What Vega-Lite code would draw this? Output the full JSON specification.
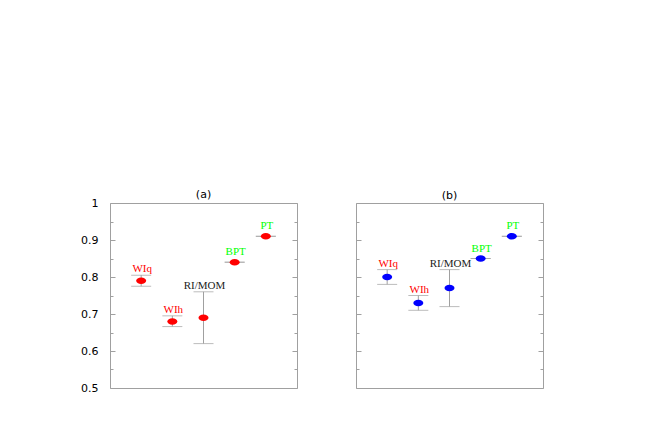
{
  "$schema": "https://vega.github.io/schema/vega-lite/v6.json",
  "padding": {"left": 80, "top": 188, "right": 0, "bottom": 0},
  "spacing": 57,
  "config": {
    "view": {"stroke": "#a0a0a0", "strokeWidth": 1},
    "title": {"font": "DejaVu Sans", "fontSize": 11, "fontWeight": "normal", "color": "#000"}
  },
  "datasets": {
    "a": [
      {"name": "WIq", "x": 1, "value": 0.79, "lo": 0.775, "hi": 0.805, "family": "WI"},
      {"name": "WIh", "x": 2, "value": 0.68, "lo": 0.666, "hi": 0.695, "family": "WI"},
      {"name": "RI/MOM", "x": 3, "value": 0.69, "lo": 0.62, "hi": 0.76, "family": "RI"},
      {"name": "BPT", "x": 4, "value": 0.84, "lo": 0.84, "hi": 0.84, "family": "PT"},
      {"name": "PT", "x": 5, "value": 0.91, "lo": 0.91, "hi": 0.91, "family": "PT"}
    ],
    "b": [
      {"name": "WIq", "x": 1, "value": 0.80, "lo": 0.78, "hi": 0.82, "family": "WI"},
      {"name": "WIh", "x": 2, "value": 0.73, "lo": 0.71, "hi": 0.75, "family": "WI"},
      {"name": "RI/MOM", "x": 3, "value": 0.77, "lo": 0.72, "hi": 0.82, "family": "RI"},
      {"name": "BPT", "x": 4, "value": 0.85, "lo": 0.85, "hi": 0.85, "family": "PT"},
      {"name": "PT", "x": 5, "value": 0.91, "lo": 0.91, "hi": 0.91, "family": "PT"}
    ]
  },
  "hconcat": [
    {
      "title": {"text": "(a)", "offset": -3},
      "width": 187,
      "height": 185,
      "data": {"name": "a"},
      "layer": [
        {
          "mark": {"type": "rule", "color": "#a0a0a0", "strokeWidth": 1},
          "encoding": {
            "x": {"field": "x", "type": "quantitative", "scale": {"domain": [0, 6]}, "axis": null},
            "y": {"field": "lo", "type": "quantitative", "scale": {"domain": [0.5, 1]},
              "axis": {"orient": "left", "title": null, "domain": false, "grid": false,
                "values": [0.5, 0.55, 0.6, 0.65, 0.7, 0.75, 0.8, 0.85, 0.9, 0.95, 1],
                "tickSize": {"condition": {"test": "abs(datum.value*10 - round(datum.value*10)) < 0.01", "value": -5}, "value": -3},
                "tickColor": "#a0a0a0",
                "labelExpr": "abs(datum.value*10 - round(datum.value*10)) < 0.01 ? (datum.value == 1 ? '1' : format(datum.value, '.1f')) : ''",
                "labelFont": "DejaVu Sans", "labelFontSize": 11, "labelColor": "#000", "labelPadding": 17}},
            "y2": {"field": "hi"}
          }
        },
        {
          "mark": {"type": "tick", "color": "#a0a0a0", "size": 20, "thickness": 1, "orient": "horizontal"},
          "encoding": {
            "x": {"field": "x", "type": "quantitative"},
            "y": {"field": "lo", "type": "quantitative", "axis": null}
          }
        },
        {
          "mark": {"type": "tick", "color": "#a0a0a0", "size": 20, "thickness": 1, "orient": "horizontal"},
          "encoding": {
            "x": {"field": "x", "type": "quantitative"},
            "y": {"field": "hi", "type": "quantitative", "axis": null}
          }
        },
        {
          "mark": {"type": "point", "filled": true, "opacity": 1, "color": "#ff0000", "size": 100,
            "shape": "M-1,0A1,0.65,0,1,1,1,0A1,0.65,0,1,1,-1,0Z"},
          "encoding": {
            "x": {"field": "x", "type": "quantitative"},
            "y": {"field": "value", "type": "quantitative",
              "axis": {"orient": "right", "title": null, "domain": false, "grid": false, "labels": false,
                "values": [0.5, 0.55, 0.6, 0.65, 0.7, 0.75, 0.8, 0.85, 0.9, 0.95, 1],
                "tickSize": {"condition": {"test": "abs(datum.value*10 - round(datum.value*10)) < 0.01", "value": -5}, "value": -3},
                "tickColor": "#a0a0a0"}}
          }
        },
        {
          "transform": [{"filter": "datum.hi > datum.value"}],
          "mark": {"type": "text", "font": "Liberation Serif", "fontSize": 11, "baseline": "bottom", "dy": -1, "dx": 1},
          "encoding": {
            "x": {"field": "x", "type": "quantitative"},
            "y": {"field": "hi", "type": "quantitative", "axis": null},
            "text": {"field": "name"},
            "color": {"field": "family", "type": "nominal", "scale": {"domain": ["WI", "RI", "PT"], "range": ["#ff0000", "#222222", "#00ff00"]}, "legend": null}
          }
        },
        {
          "transform": [{"filter": "datum.hi <= datum.value"}],
          "mark": {"type": "text", "font": "Liberation Serif", "fontSize": 11, "baseline": "bottom", "dy": -5, "dx": 1},
          "encoding": {
            "x": {"field": "x", "type": "quantitative"},
            "y": {"field": "value", "type": "quantitative", "axis": null},
            "text": {"field": "name"},
            "color": {"field": "family", "type": "nominal", "scale": {"domain": ["WI", "RI", "PT"], "range": ["#ff0000", "#222222", "#00ff00"]}, "legend": null}
          }
        }
      ],
      "resolve": {"axis": {"y": "independent"}}
    },
    {
      "title": {"text": "(b)", "offset": 2},
      "width": 187,
      "height": 185,
      "data": {"name": "b"},
      "layer": [
        {
          "mark": {"type": "rule", "color": "#a0a0a0", "strokeWidth": 1},
          "encoding": {
            "x": {"field": "x", "type": "quantitative", "scale": {"domain": [0, 6]}, "axis": null},
            "y": {"field": "lo", "type": "quantitative", "scale": {"domain": [0.5, 1]},
              "axis": {"orient": "left", "title": null, "domain": false, "grid": false, "labels": false,
                "values": [0.5, 0.55, 0.6, 0.65, 0.7, 0.75, 0.8, 0.85, 0.9, 0.95, 1],
                "tickSize": {"condition": {"test": "abs(datum.value*10 - round(datum.value*10)) < 0.01", "value": -5}, "value": -3},
                "tickColor": "#a0a0a0"}},
            "y2": {"field": "hi"}
          }
        },
        {
          "mark": {"type": "tick", "color": "#a0a0a0", "size": 20, "thickness": 1, "orient": "horizontal"},
          "encoding": {
            "x": {"field": "x", "type": "quantitative"},
            "y": {"field": "lo", "type": "quantitative", "axis": null}
          }
        },
        {
          "mark": {"type": "tick", "color": "#a0a0a0", "size": 20, "thickness": 1, "orient": "horizontal"},
          "encoding": {
            "x": {"field": "x", "type": "quantitative"},
            "y": {"field": "hi", "type": "quantitative", "axis": null}
          }
        },
        {
          "mark": {"type": "point", "filled": true, "opacity": 1, "color": "#0000ff", "size": 100,
            "shape": "M-1,0A1,0.65,0,1,1,1,0A1,0.65,0,1,1,-1,0Z"},
          "encoding": {
            "x": {"field": "x", "type": "quantitative"},
            "y": {"field": "value", "type": "quantitative",
              "axis": {"orient": "right", "title": null, "domain": false, "grid": false, "labels": false,
                "values": [0.5, 0.55, 0.6, 0.65, 0.7, 0.75, 0.8, 0.85, 0.9, 0.95, 1],
                "tickSize": {"condition": {"test": "abs(datum.value*10 - round(datum.value*10)) < 0.01", "value": -5}, "value": -3},
                "tickColor": "#a0a0a0"}}
          }
        },
        {
          "transform": [{"filter": "datum.hi > datum.value"}],
          "mark": {"type": "text", "font": "Liberation Serif", "fontSize": 11, "baseline": "bottom", "dy": -1, "dx": 1},
          "encoding": {
            "x": {"field": "x", "type": "quantitative"},
            "y": {"field": "hi", "type": "quantitative", "axis": null},
            "text": {"field": "name"},
            "color": {"field": "family", "type": "nominal", "scale": {"domain": ["WI", "RI", "PT"], "range": ["#ff0000", "#222222", "#00ff00"]}, "legend": null}
          }
        },
        {
          "transform": [{"filter": "datum.hi <= datum.value"}],
          "mark": {"type": "text", "font": "Liberation Serif", "fontSize": 11, "baseline": "bottom", "dy": -5, "dx": 1},
          "encoding": {
            "x": {"field": "x", "type": "quantitative"},
            "y": {"field": "value", "type": "quantitative", "axis": null},
            "text": {"field": "name"},
            "color": {"field": "family", "type": "nominal", "scale": {"domain": ["WI", "RI", "PT"], "range": ["#ff0000", "#222222", "#00ff00"]}, "legend": null}
          }
        }
      ],
      "resolve": {"axis": {"y": "independent"}}
    }
  ]
}
